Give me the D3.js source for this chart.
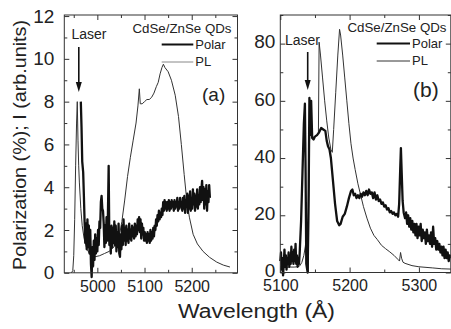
<!DOCTYPE html>
<html>
<head>
<meta charset="utf-8">
<script src="https://cdn.jsdelivr.net/npm/d3@7"></script>
<style>
  body { margin: 0; background: #fff; }
  svg text { font-family: "Liberation Sans", Arial, sans-serif; fill: #222; }
  .tick line { stroke: #333; }
</style>
</head>
<body>
<svg id="chart" width="451" height="329"></svg>
<script>
// ---- data: [wavelength (Å), value] ----
const plA = [
  [4945,0],[4948,0.1],[4950,0.8],[4952,2.5],[4954,5],[4956,7],[4957.5,8.0],[4959,6.2],[4960.5,5.0],
  [4962,4.2],[4965,3.0],[4968,2.2],[4972,1.6],[4978,1.1],[4985,0.85],[4995,0.75],[5005,0.8],
  [5015,0.9],[5025,1.0],[5035,1.2],[5042,1.5],[5048,1.9],[5052,2.4],[5058,3.4],[5064,4.5],
  [5070,5.4],[5076,6.2],[5082,7.0],[5086,7.8],[5089,8.6],[5091,7.9],[5095,7.9],[5100,8.0],
  [5105,8.1],[5110,8.1],[5115,8.2],[5120,8.4],[5125,8.7],[5129,8.9],[5133,9.3],[5137,9.6],
  [5140,9.75],[5143,9.6],[5150,9.4],[5157,9.0],[5165,8.3],[5172,7.3],[5178,6.0],[5184,4.6],
  [5189,3.5],[5195,2.6],[5203,1.8],[5212,1.35],[5224,1.0],[5238,0.72],[5253,0.5],[5267,0.36],[5281,0.27]
];

const polarA = [
  [4965,8.0],[4966.5,6.8],[4968,5.2],[4970,4.7],[4971.5,3.6],[4973,2.4],[4974.5,1.4],[4976,2.3],
  [4977.5,1.1],[4979,2.5],[4980.5,1.2],[4982,2.2],[4983.5,0.9],[4985,2.0],[4986.5,0.4],[4988,-0.2],
  [4989.5,1.2],[4991,0.3],[4992.5,1.5],[4994,0.6],[4995.5,1.8],[4997,0.9],[4998.5,1.6],[5000,1.0],
  [5001.5,2.0],[5003,1.3],[5004.5,2.4],[5006,2.1],[5007.5,3.3],[5009,3.6],[5010.5,3.0],[5012,2.9],
  [5013.5,2.3],[5015,1.2],[5016.5,2.2],[5018,1.4],[5019.5,2.6],[5021,1.5],[5022.5,2.8],[5024,5.0],
  [5025.5,1.3],[5027,2.0],[5028.5,0.9],[5030,2.2],[5031.5,1.2],[5033,2.1],[5034.5,1.4],[5036,2.4],
  [5037.5,1.3],[5039,2.2],[5040.5,1.0],[5042,1.9],[5043.5,1.2],[5045,2.3],[5046.5,0.9],[5048,0.75],
  [5049.5,1.8],[5051,1.1],[5052.5,2.2],[5054,1.3],[5055.5,2.5],[5057,1.5],[5058.5,2.1],[5060,1.3],
  [5061.5,2.2],[5063,1.5],[5064.5,2.0],[5066,1.4],[5067.5,2.3],[5069,1.6],[5070.5,2.0],[5072,1.5],
  [5073.5,2.2],[5075,1.7],[5076.5,2.1],[5078,1.6],[5079.5,2.3],[5081,1.7],[5082.5,2.2],[5084,1.8],
  [5085.5,2.5],[5087,2.0],[5088.5,2.6],[5090,1.9],[5091.5,2.5],[5093,1.6],[5094.5,2.3],[5096,1.8],
  [5097.5,2.1],[5099,1.5],[5100.5,1.9],[5102,1.5],[5103.5,1.8],[5105,1.4],[5106.5,1.9],[5108,1.5],
  [5109.5,1.8],[5111,1.4],[5112.5,2.0],[5114,1.5],[5115.5,1.9],[5117,1.6],[5118.5,2.1],[5120,1.7],
  [5121.5,2.2],[5123,2.0],[5124.5,2.5],[5126,2.2],[5127.5,2.7],[5129,2.4],[5130.5,2.9],[5132,2.5],
  [5133.5,2.8],[5135,2.6],[5136.5,3.0],[5138,2.7],[5139.5,3.3],[5141,2.9],[5142.5,3.4],[5144,3.0],
  [5145.5,3.3],[5147,2.9],[5148.5,3.3],[5150,3.0],[5151.5,3.4],[5153,2.9],[5154.5,3.3],[5156,3.0],
  [5157.5,3.4],[5159,3.1],[5160.5,3.3],[5162,2.9],[5163.5,3.4],[5165,3.0],[5166.5,3.3],[5168,3.1],
  [5169.5,3.5],[5171,2.9],[5172.5,3.3],[5174,3.0],[5175.5,3.5],[5177,3.1],[5178.5,3.3],[5180,2.9],
  [5181.5,3.5],[5183,3.0],[5184.5,3.6],[5186,2.8],[5187.5,3.4],[5189,3.1],[5190.5,3.7],[5192,2.8],
  [5193.5,3.6],[5195,3.0],[5196.5,3.8],[5198,2.9],[5199.5,3.4],[5201,3.0],[5202.5,3.9],[5204,3.2],
  [5205.5,3.7],[5207,2.9],[5208.5,3.6],[5210,3.1],[5211.5,3.9],[5213,3.0],[5214.5,3.6],[5216,3.2],
  [5217.5,4.0],[5219,3.3],[5220.5,3.9],[5222,4.3],[5223.5,3.4],[5225,4.0],[5226.5,3.0],[5228,3.9],
  [5229.5,3.2],[5231,4.1],[5232.5,2.9],[5234,3.8],[5235.5,3.3],[5237,4.1],[5238.5,3.5]
];

const plB = [
  [5100,2],[5105,1.9],[5110,1.8],[5115,1.9],[5120,1.9],[5125,2.0],[5128,2.3],[5131,3.5],[5134,6],
  [5136,9],[5137.5,12],[5138.5,15],[5139,3],[5139.5,0],[5140.5,0],[5141,20],[5142,45],[5144,55],
  [5146,47],[5150,47.5],[5153,48],[5155,49],[5156,80.5],[5158,76],[5161,68],[5164,60],[5167,53],
  [5170,47],[5173,43],[5175,42],[5177,50],[5180,63],[5183,76],[5185.5,85],[5187,83],[5190,76],
  [5193,68],[5196,60],[5199,52],[5202,45],[5205,40],[5208,36],[5212,31],[5216,27],[5220,23],
  [5225,19],[5230,15.5],[5235,13],[5240,11.5],[5246,9.5],[5252,8.3],[5258,7.2],[5264,6],[5270,4.5],
  [5272,4.0],[5273.5,7],[5275,5],[5277,3.6],[5280,3.2],[5290,2.4],[5300,2.0],[5320,1.6],[5333,1.3],[5346,1.2]
];

const polarB = [
  [5100,4],[5101,7],[5102,1],[5103,5],[5104,-1],[5105,3],[5106,8],[5107,2],[5108,6],[5109,1],
  [5110,5],[5111,3],[5112,7],[5113,2],[5114,6],[5115,3],[5116,9],[5117,4],[5118,7],[5119,3],
  [5120,8],[5121,4],[5122,10],[5123,3],[5124,6],[5125,2],[5126,5],[5127,3],[5128,7],[5130,18],
  [5132,35],[5134,52],[5135.5,59],[5136.5,35],[5137.5,3],[5139.5,0],[5141,30],[5142,61],[5143,48],
  [5144.5,60],[5146,47],[5148,46.5],[5150,47.5],[5153,48],[5156,49],[5159,50.5],[5162,50],[5165,49.5],
  [5167,46],[5169,44],[5171,43],[5173,40],[5176,32],[5179,24],[5182,18],[5185,16.5],[5187,17],
  [5190,19.5],[5193,20.5],[5196,23],[5199,26],[5202,28.5],[5204,29],[5206,27],[5208,27.5],[5210,26],
  [5212,27],[5214,26],[5216,27.5],[5218,26.5],[5220,28],[5222,27],[5224,28.5],[5226,27],[5228,29],
  [5230,27.5],[5232,28],[5234,26],[5236,28],[5238,25.5],[5240,27],[5242,25],[5244,25.5],[5246,24],
  [5248,24.5],[5250,23],[5252,23.5],[5254,22],[5256,22.5],[5258,21],[5260,21.5],[5262,20.5],
  [5264,21],[5266,20],[5268,20.5],[5270,19.5],[5271.5,24],[5273,36],[5274,43.5],[5275,36],
  [5276.5,25],[5278,21],[5280,19],[5281.5,21],[5283,17],[5284.5,20],[5286,16],[5287.5,19],[5289,15],
  [5290.5,18],[5292,14],[5293.5,17],[5295,13],[5296.5,17],[5298,12],[5299.5,16],[5301,13],
  [5302.5,17],[5304,11],[5305.5,15],[5307,12],[5308.5,14],[5310,10],[5311.5,15],[5313,11],
  [5314.5,13],[5316,10],[5317.5,14],[5319,9],[5320.5,16],[5322,10],[5323.5,12],[5325,8],[5326.5,11],
  [5328,8],[5329.5,10],[5331,7],[5332.5,9],[5334,6],[5335.5,9],[5337,5],[5338.5,8],[5340,5],
  [5341.5,7],[5343,4],[5344.5,6],[5346,5]
];

// ticks
const xMajorA = [5000, 5100, 5200];
const xMinorA = [4950, 5050, 5150, 5250];
const yMajorA = [0, 2, 4, 6, 8, 10, 12];
const yMinorA = [1, 3, 5, 7, 9, 11];
const xMajorB = [5100, 5200, 5300];
const xMinorB = [5150, 5250];
const yMajorB = [0, 20, 40, 60, 80];
const yMinorB = [10, 30, 50, 70, 90];

const legendTitle = "CdSe/ZnSe QDs";
const seriesNames = ["Polar", "PL"];

const svg = d3.select("#chart");
svg.append("rect").attr("width", 451).attr("height", 329).attr("fill", "#fff");

function drawPanel(p) {
  const x = d3.scaleLinear().domain(p.xDomain).range([p.left, p.right]);
  const y = d3.scaleLinear().domain(p.yDomain).range([p.bottom, p.top]);
  const g = svg.append("g");

  const clean = sel => {
    sel.select(".domain").remove();
    sel.attr("font-size", null).attr("font-family", null);
  };

  // bottom axis (labels) + minor
  g.append("g").attr("transform", `translate(0,${p.bottom})`)
    .call(d3.axisBottom(x).tickValues(p.xMajor).tickSize(-5).tickPadding(7.5).tickFormat(d3.format("d")))
    .call(clean)
    .selectAll("text").style("font-size", "16px");
  g.append("g").attr("transform", `translate(0,${p.bottom})`)
    .call(d3.axisBottom(x).tickValues(p.xMinor).tickSize(-3).tickFormat("")).call(clean);
  // top mirror
  g.append("g").attr("transform", `translate(0,${p.top})`)
    .call(d3.axisTop(x).tickValues(p.xMajor).tickSize(-5).tickFormat("")).call(clean);
  g.append("g").attr("transform", `translate(0,${p.top})`)
    .call(d3.axisTop(x).tickValues(p.xMinor).tickSize(-3).tickFormat("")).call(clean);

  // left axis (labels) + minor
  g.append("g").attr("transform", `translate(${p.left},0)`)
    .call(d3.axisLeft(y).tickValues(p.yMajor).tickSize(-5).tickPadding(p.yPad))
    .call(clean)
    .selectAll("text").style("font-size", "19px").attr("dy", p.yDy);
  g.append("g").attr("transform", `translate(${p.left},0)`)
    .call(d3.axisLeft(y).tickValues(p.yMinor).tickSize(-3).tickFormat("")).call(clean);
  // right mirror
  g.append("g").attr("transform", `translate(${p.right},0)`)
    .call(d3.axisRight(y).tickValues(p.yMajor).tickSize(-5).tickFormat("")).call(clean);
  g.append("g").attr("transform", `translate(${p.right},0)`)
    .call(d3.axisRight(y).tickValues(p.yMinor).tickSize(-3).tickFormat("")).call(clean);

  const line = d3.line().x(d => x(d[0])).y(d => y(d[1]));

  // PL thin, Polar thick
  g.append("path").datum(p.pl)
    .attr("fill", "none").attr("stroke", "#333").attr("stroke-width", 1)
    .attr("d", line);
  g.append("path").datum(p.polar)
    .attr("fill", "none").attr("stroke", "#111").attr("stroke-width", 2.3)
    .attr("stroke-linejoin", "round")
    .attr("d", line);

  // frame
  g.append("rect")
    .attr("x", p.left).attr("y", p.top)
    .attr("width", p.right - p.left).attr("height", p.bottom - p.top)
    .attr("fill", "none").attr("stroke", "#333").attr("stroke-width", 1);

  // legend
  const L = p.legend;
  g.append("text").attr("x", L.x).attr("y", L.y).style("font-size", "13px")
    .attr("textLength", 99).attr("lengthAdjust", "spacingAndGlyphs").text(legendTitle);
  g.append("line").attr("x1", L.lx1).attr("x2", L.lx2).attr("y1", L.y + 11.5).attr("y2", L.y + 11.5)
    .attr("stroke", "#111").attr("stroke-width", 2.2);
  g.append("text").attr("x", L.lx2 + 2).attr("y", L.y + 16).style("font-size", "13px").text(seriesNames[0]);
  g.append("line").attr("x1", L.lx1).attr("x2", L.lx2).attr("y1", L.y + 29).attr("y2", L.y + 29)
    .attr("stroke", p.plLegend).attr("stroke-width", 1);
  g.append("text").attr("x", L.lx2 + 2).attr("y", L.y + 33).style("font-size", "13px").text(seriesNames[1]);

  g.append("text").attr("x", p.tag.x).attr("y", p.tag.y).style("font-size", p.tag.size + "px").text(p.tag.text);

  // laser label and arrow
  g.append("text").attr("x", p.laser.x).attr("y", p.laser.y).style("font-size", "14px").text("Laser");
  const ax = p.laser.ax;
  g.append("line").attr("x1", ax).attr("x2", ax).attr("y1", p.laser.y1).attr("y2", p.laser.y2 - 8)
    .attr("stroke", "#111").attr("stroke-width", 1.6);
  g.append("path")
    .attr("d", `M${ax - 3},${p.laser.y2 - 10}L${ax + 3},${p.laser.y2 - 10}L${ax},${p.laser.y2}Z`)
    .attr("fill", "#111");
}

drawPanel({
  xDomain: [4930, 5297], yDomain: [0, 12.05],
  left: 64.3, right: 237.5, top: 15, bottom: 272.8,
  xMajor: xMajorA, xMinor: xMinorA, yMajor: yMajorA, yMinor: yMinorA, yPad: 10, yDy: "0.32em",
  pl: plA, polar: polarA, plLegend: "#888",
  legend: { x: 132.5, y: 33, lx1: 161.7, lx2: 193.3 },
  tag: { x: 202, y: 101, size: 19, text: "(a)" },
  laser: { x: 71.5, y: 39, ax: 78.8, y1: 47, y2: 92 }
});

drawPanel({
  xDomain: [5100, 5346], yDomain: [0, 90],
  left: 280.3, right: 450.8, top: 15, bottom: 272.5,
  xMajor: xMajorB, xMinor: xMinorB, yMajor: yMajorB, yMinor: yMinorB, yPad: 5, yDy: "0.22em",
  pl: plB, polar: polarB, plLegend: "#333",
  legend: { x: 347.5, y: 32, lx1: 376.7, lx2: 410 },
  tag: { x: 413, y: 97, size: 21, text: "(b)" },
  laser: { x: 285, y: 45, ax: 307.7, y1: 52, y2: 90 }
});

// axis titles
svg.append("text")
  .attr("x", 256.5).attr("y", 318).attr("text-anchor", "middle")
  .style("font-size", "20px")
  .attr("textLength", 157).attr("lengthAdjust", "spacingAndGlyphs")
  .text("Wavelength (Å)");

svg.append("text")
  .attr("transform", "translate(26,145) rotate(-90)")
  .attr("text-anchor", "middle")
  .style("font-size", "19px")
  .attr("textLength", 250).attr("lengthAdjust", "spacingAndGlyphs")
  .text("Polarization (%); I (arb.units)");
</script>
</body>
</html>
